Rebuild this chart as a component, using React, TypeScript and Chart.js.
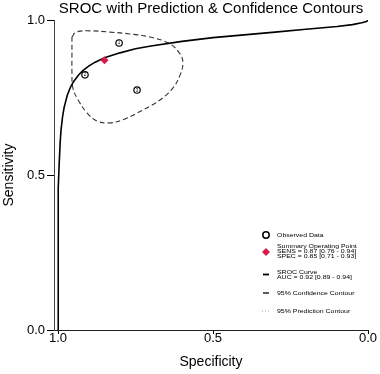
import { useEffect, useRef } from "react";
import { Chart, registerables } from "chart.js";
Chart.register(...registerables);

const FONT = "'Liberation Sans', Arial, Helvetica, sans-serif";

const chartTitle = "SROC with Prediction & Confidence Contours";
const xTitle = "Specificity";
const yTitle = "Sensitivity";
const xTicks = [1.0, 0.5, 0.0];
const yTicks = [0.0, 0.5, 1.0];

// Observed studies (specificity, sensitivity)
const studyLabels = ["1", "2", "3"];
const studySpec = [0.803, 0.913, 0.745];
const studySens = [0.926, 0.823, 0.774];

// Summary operating point
const summarySpec = [0.85];
const summarySens = [0.87];

// SROC curve
const srocSpec = [1, 0.99999, 0.9999, 0.9995, 0.999, 0.998, 0.996, 0.993, 0.99, 0.985, 0.98, 0.97, 0.96, 0.95, 0.935, 0.92, 0.9, 0.88, 0.85, 0.8, 0.75, 0.7, 0.6, 0.5, 0.4, 0.3, 0.2, 0.1, 0.05, 0.02, 0.005, 0];
const srocSens = [0, 0.063, 0.168, 0.304, 0.377, 0.458, 0.54, 0.606, 0.647, 0.69, 0.719, 0.757, 0.783, 0.801, 0.821, 0.837, 0.852, 0.864, 0.878, 0.894, 0.907, 0.916, 0.931, 0.943, 0.952, 0.961, 0.97, 0.979, 0.985, 0.991, 0.995, 1.0];

// 95% confidence contour
const confSpec = [0.955, 0.942, 0.897, 0.832, 0.768, 0.703, 0.639, 0.606, 0.597, 0.606, 0.629, 0.671, 0.726, 0.784, 0.832, 0.874, 0.906, 0.935, 0.952, 0.955, 0.955, 0.955];
const confSens = [0.945, 0.961, 0.965, 0.961, 0.955, 0.945, 0.923, 0.89, 0.861, 0.823, 0.781, 0.742, 0.71, 0.681, 0.668, 0.674, 0.7, 0.742, 0.781, 0.832, 0.887, 0.945];

// Legend text
const legendObserved = ["Observed Data"];
const legendSummary = ["Summary Operating Point", "SENS = 0.87 [0.76 - 0.94]", "SPEC = 0.85 [0.71 - 0.93]"];
const legendSroc = ["SROC Curve", "AUC = 0.92 [0.89 - 0.94]"];
const legendConf = ["95% Confidence Contour"];
const legendPred = ["95% Prediction Contour"];

const RED = "#d81b4a";

function pts(xs: number[], ys: number[]) {
  return xs.map((x, i) => ({ x, y: ys[i] }));
}

function stretchText(ctx: CanvasRenderingContext2D, text: string, x: number, y: number, size: number, sx: number) {
  ctx.save();
  ctx.translate(x, y);
  ctx.scale(sx, 1);
  ctx.font = `${size}px ${FONT}`;
  ctx.textBaseline = "middle";
  ctx.textAlign = "left";
  ctx.fillStyle = "#000";
  ctx.fillText(text, 0, 0);
  ctx.restore();
}

const overlayPlugin = {
  id: "overlay",
  afterDatasetsDraw(chart: any) {
    const ctx: CanvasRenderingContext2D = chart.ctx;
    const meta = chart.getDatasetMeta(1);
    ctx.save();
    ctx.fillStyle = "#000";
    ctx.font = `4.5px ${FONT}`;
    ctx.textAlign = "center";
    ctx.textBaseline = "middle";
    meta.data.forEach((el: any, i: number) => {
      ctx.fillText(studyLabels[i], el.x, el.y + 0.3);
    });
    ctx.restore();
  },
  afterDraw(chart: any) {
    const ctx: CanvasRenderingContext2D = chart.ctx;
    const sx = 266;
    const tx = 277;
    const size = 6.2;
    const st = 1.12;
    ctx.save();
    // Observed data
    ctx.beginPath();
    ctx.arc(sx, 235, 3.2, 0, Math.PI * 2);
    ctx.strokeStyle = "#000";
    ctx.lineWidth = 1.5;
    ctx.stroke();
    stretchText(ctx, legendObserved[0], tx, 235, size, st);
    // Summary
    ctx.beginPath();
    ctx.moveTo(sx, 252 - 4);
    ctx.lineTo(sx + 4, 252);
    ctx.lineTo(sx, 252 + 4);
    ctx.lineTo(sx - 4, 252);
    ctx.closePath();
    ctx.fillStyle = RED;
    ctx.fill();
    legendSummary.forEach((t, i) => stretchText(ctx, t, tx, 246.5 + i * 5, size, st));
    // SROC
    ctx.beginPath();
    ctx.moveTo(sx - 3, 274.5);
    ctx.lineTo(sx + 3, 274.5);
    ctx.lineWidth = 1.8;
    ctx.strokeStyle = "#000";
    ctx.stroke();
    legendSroc.forEach((t, i) => stretchText(ctx, t, tx, 272 + i * 5.5, size, st));
    // Confidence
    ctx.beginPath();
    ctx.moveTo(sx - 3, 293);
    ctx.lineTo(sx + 3, 293);
    ctx.lineWidth = 1.3;
    ctx.stroke();
    stretchText(ctx, legendConf[0], tx, 293, size, st);
    // Prediction
    ctx.beginPath();
    ctx.setLineDash([1, 2]);
    ctx.moveTo(sx - 4, 311);
    ctx.lineTo(sx + 4, 311);
    ctx.lineWidth = 0.8;
    ctx.strokeStyle = "#888";
    ctx.stroke();
    ctx.setLineDash([]);
    stretchText(ctx, legendPred[0], tx, 311, size, st);
    ctx.restore();
  },
};

export default function App() {
  const ref = useRef<HTMLCanvasElement | null>(null);
  useEffect(() => {
    document.body.style.margin = "0";
    const canvas = ref.current!;
    const tickFont = { family: FONT, size: 13 };
    const chart = new Chart(canvas, {
      type: "scatter",
      data: {
        datasets: [
          {
            label: "Summary",
            data: pts(summarySpec, summarySens),
            pointStyle: "rectRot",
            pointRadius: 4,
            backgroundColor: RED,
            borderColor: RED,
            borderWidth: 0,
            showLine: false,
          },
          {
            label: "Observed",
            data: pts(studySpec, studySens),
            pointStyle: "circle",
            pointRadius: 3.2,
            backgroundColor: "#fff",
            borderColor: "#000",
            borderWidth: 1.2,
            showLine: false,
          },
          {
            label: "SROC",
            data: pts(srocSpec, srocSens),
            showLine: true,
            pointRadius: 0,
            borderColor: "#000",
            borderWidth: 1.6,
            tension: 0,
            fill: false,
          },
          {
            label: "Confidence",
            data: pts(confSpec, confSens),
            showLine: true,
            pointRadius: 0,
            borderColor: "#333",
            borderWidth: 1.1,
            borderDash: [5, 3],
            tension: 0.4,
            fill: false,
          },
        ],
      },
      options: {
        animation: false,
        responsive: false,
        maintainAspectRatio: false,
        events: [],
        layout: { padding: { left: 0, right: 12, top: 0, bottom: 0 } },
        plugins: {
          legend: { display: false },
          tooltip: { enabled: false },
          title: {
            display: true,
            text: chartTitle,
            fullSize: false,
            color: "#000",
            font: { family: FONT, size: 15, weight: "normal" },
            padding: { top: 0, bottom: 2 },
          },
        },
        scales: {
          x: {
            type: "linear",
            reverse: true,
            min: 0,
            max: 1 + 4 / 310,
            afterBuildTicks: (s: any) => {
              s.ticks = xTicks.map((v) => ({ value: v }));
            },
            afterFit: (s: any) => {
              s.height = 44;
            },
            ticks: {
              color: "#000",
              font: tickFont,
              padding: -3,
              maxRotation: 0,
              autoSkip: false,
              callback: (v: any) => Number(v).toFixed(1),
            },
            grid: { drawOnChartArea: false, drawTicks: true, tickLength: 4, color: "#000", lineWidth: 1 },
            border: { display: true, color: "#222", width: 1 },
            title: { display: true, text: xTitle, color: "#000", font: { family: FONT, size: 14 }, padding: { top: 0, bottom: 3 } },
          },
          y: {
            type: "linear",
            min: 0,
            max: 1,
            afterBuildTicks: (s: any) => {
              s.ticks = yTicks.map((v) => ({ value: v }));
            },
            afterFit: (s: any) => {
              s.width = 54;
            },
            ticks: {
              color: "#000",
              font: tickFont,
              padding: 2,
              autoSkip: false,
              callback: (v: any) => Number(v).toFixed(1),
            },
            grid: { drawOnChartArea: false, drawTicks: true, tickLength: 7, color: "#000", lineWidth: 1 },
            border: { display: true, color: "#444", width: 1 },
            title: { display: true, text: yTitle, color: "#000", font: { family: FONT, size: 14 }, padding: { top: 1, bottom: 0 } },
          },
        },
      } as any,
      plugins: [overlayPlugin],
    });
    return () => chart.destroy();
  }, []);
  return (
    <div style={{ width: 380, height: 374 }}>
      <canvas ref={ref} width={380} height={374} style={{ display: "block", width: 380, height: 374 }} />
    </div>
  );
}
